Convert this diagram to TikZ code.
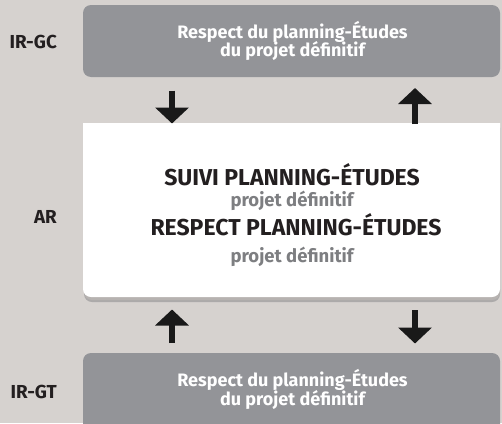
\documentclass[tikz,border=0pt]{standalone}
\usepackage{fontspec}
\setmainfont{Fira Sans}
\usetikzlibrary{arrows.meta}
\definecolor{bg}{RGB}{214,210,207}
\definecolor{boxgray}{RGB}{147,148,152}
\definecolor{labeltext}{RGB}{35,31,32}
\definecolor{subgray}{RGB}{125,126,129}
\definecolor{shadowgray}{RGB}{172,170,170}
\tikzset{
  graybox/.style={fill=boxgray, rounded corners=8pt},
  boxtext/.style={anchor=base, inner sep=0pt, text=white, font=\bfseries\fontsize{18}{20}\selectfont},
  headtext/.style={anchor=base, inner sep=0pt, text=labeltext, font=\bfseries\fontsize{23}{26}\selectfont},
  subtext/.style={anchor=base, inner sep=0pt, text=subgray, font=\bfseries\fontsize{18.5}{20}\selectfont},
  sidelabel/.style={anchor=base east, inner sep=0pt, text=labeltext, font=\bfseries\fontsize{18.8}{20}\selectfont},
  blockarrow/.style={draw=black!90, line width=6.5pt, -{Triangle[width=33pt,length=16pt]}}
}
\begin{document}
\begin{tikzpicture}[x=1pt,y=-1pt]
\useasboundingbox (0,0) rectangle (502,423);
\clip (0,0) rectangle (502,423);
\fill[bg] (0,0) rectangle (502,423);

% top box IR-GC
\path[graybox] (83,5) rectangle (500,77);
\node[boxtext] (gc1) at (292.5,38.3) {Respect du planning-Études};
\node[boxtext] (gc2) at (292.5,56.7) {du projet définitif};
\node[sidelabel] (lgc) at (57,48.3) {IR-GC};

% white box AR with shadow
\fill[shadowgray, rounded corners=8pt] (84,120) rectangle (500,302);
\fill[black!15!bg, rounded corners=8pt] (84,120) rectangle (500,300);
\fill[white, rounded corners=8pt] (83,115) rectangle (500,297);
\fill[white] (83,123) rectangle (500,140);
\fill[bg] (83,110) rectangle (502,123);
\node[headtext] (h1) at (292,185) {SUIVI PLANNING-ÉTUDES};
\node[subtext] (s1) at (292,206.7) {projet définitif};
\node[headtext] (h2) at (296,235) {RESPECT PLANNING-ÉTUDES};
\node[subtext] (s2) at (292,262.7) {projet définitif};
\node[sidelabel] (lar) at (57,223.3) {AR};

% bottom box IR-GT
\path[graybox] (83,353) rectangle (500,440);
\node[boxtext] (gt1) at (292.5,386.7) {Respect du planning-Études};
\node[boxtext] (gt2) at (292.5,405) {du projet définitif};
\node[sidelabel] (lgt) at (57,398.3) {IR-GT};

% arrows
\coordinate (a1s) at (172,90.5);
\coordinate (a1e) at (172,123.5);
\coordinate (a2s) at (415,124);
\coordinate (a2e) at (415,88);
\coordinate (a3s) at (172,343);
\coordinate (a3e) at (172,309.5);
\coordinate (a4s) at (415,310);
\coordinate (a4e) at (415,343.5);
\draw[blockarrow] (a1s) -- (a1e);
\draw[blockarrow] (a2s) -- (a2e);
\draw[blockarrow] (a3s) -- (a3e);
\draw[blockarrow] (a4s) -- (a4e);
\end{tikzpicture}
\end{document}
